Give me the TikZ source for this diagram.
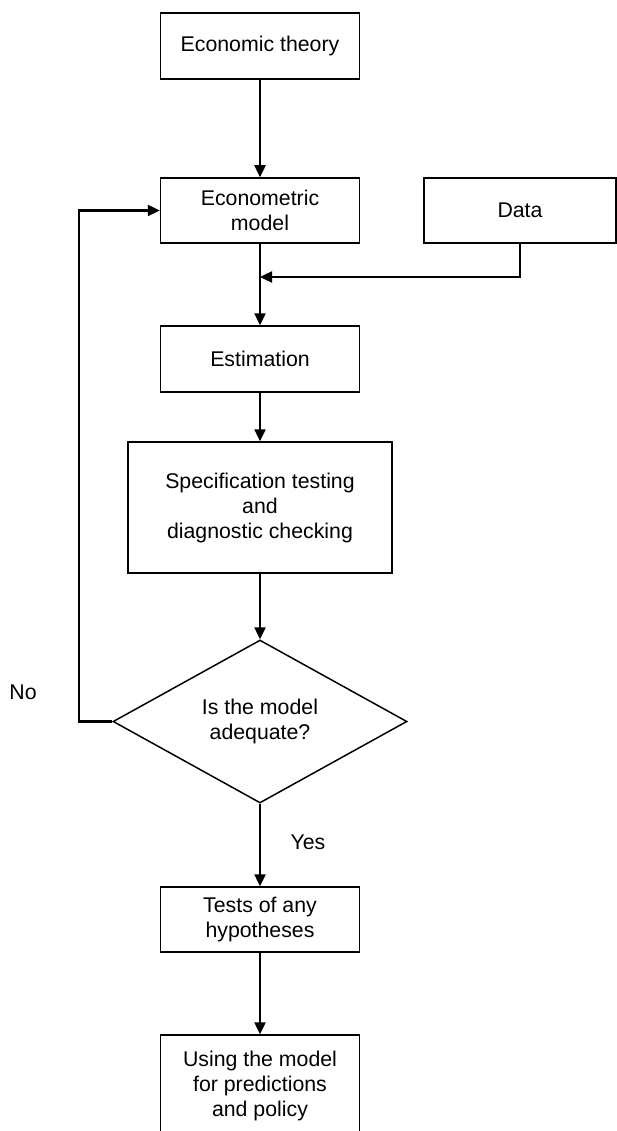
\documentclass[tikz,border=0pt]{standalone}
\usepackage{fontspec}
\setmainfont{Liberation Sans}
\usetikzlibrary{shapes.geometric,arrows.meta}
\begin{document}
\begin{tikzpicture}[x=1pt,y=-1pt,
  every node/.style={font=\fontsize{21.3}{25}\selectfont, align=center},
  stepbox/.style={draw, line width=1.5pt, rectangle, inner sep=0pt},
  decision/.style={draw, line width=1.5pt, diamond, aspect=1.8, inner sep=0pt,
    minimum width=294pt, minimum height=163pt},
  flow/.style={line width=2.4pt, -{Triangle[length=12pt,width=11pt]}}]
  \useasboundingbox (0,0) rectangle (617,1131);
  \clip (0,0) rectangle (617,1131);

  % boxes of the procedure
  \node[stepbox, minimum width=199pt, minimum height=66pt] (theory) at (260,46) {Economic theory};
  \node[stepbox, minimum width=199pt, minimum height=65pt] (model) at (260,210.5) {Econometric\\model};
  \node[stepbox, minimum width=192pt, minimum height=65pt] (data) at (520,210.5) {Data};
  \node[stepbox, minimum width=199pt, minimum height=66pt] (est) at (260,359) {Estimation};
  \node[stepbox, minimum width=264pt, minimum height=131pt] (spec) at (260,507.5)
    {Specification testing\\and\\diagnostic checking};
  \node[decision] (dia) at (260,721.5) {Is the model\\adequate?};
  \node[stepbox, minimum width=199pt, minimum height=65pt] (tests) at (260,919.5) {Tests of any\\hypotheses};
  \node[stepbox, minimum width=199pt, minimum height=102pt] (use) at (260,1086)
    {Using the model\\for predictions\\and policy};

  % labels of the decision branches
  \node (no) at (23,692) {No};
  \node (yes) at (308,842) {Yes};

  % helper points
  \coordinate (merge) at (260,277);
  \coordinate (fb) at (79,450);

  % connectors
  \draw[flow] (theory.south) -- (model.north);
  \draw[flow] (model.south) -- (est.north);
  \draw[flow] (data.south) |- (merge);
  \draw[flow] (est.south) -- (spec.north);
  \draw[flow] (spec.south) -- (dia.north);
  \draw[flow] (dia.west) -| (fb) |- (model.west);
  \draw[flow] (dia.south) -- (tests.north);
  \draw[flow] (tests.south) -- (use.north);
\end{tikzpicture}
\end{document}
